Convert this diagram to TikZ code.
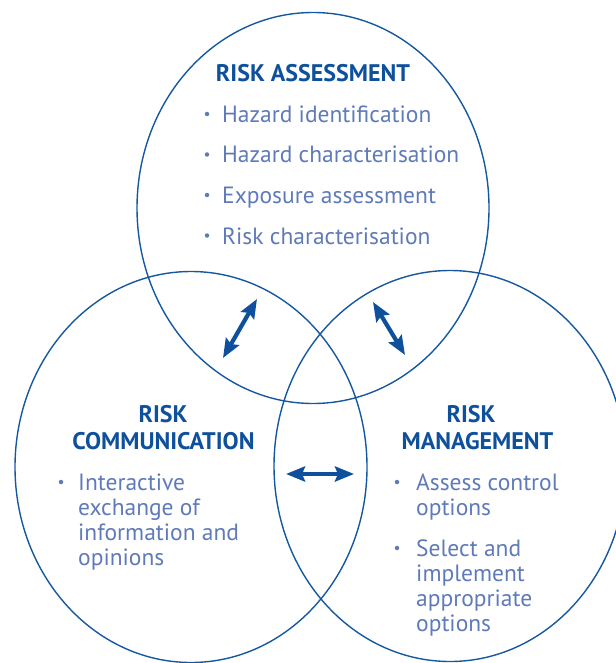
\documentclass[tikz,border=0pt]{standalone}
\usepackage{fontspec}
\setmainfont{PT Sans}
\usetikzlibrary{shapes.geometric,arrows.meta}
\definecolor{rimblue}{RGB}{22,88,160}
\definecolor{headblue}{RGB}{14,80,155}
\definecolor{itemblue}{RGB}{95,122,185}

\begin{document}
\begin{tikzpicture}[x=1pt, y=-1pt,
    circ/.style={ellipse, draw=rimblue, line width=1.4pt, minimum width=352pt, minimum height=391pt, inner sep=0pt},
    head/.style={font=\fontsize{24}{27}\selectfont\bfseries, text=headblue, inner sep=0pt, anchor=base},
    item/.style={font=\fontsize{23.5}{25}\selectfont, text=itemblue, inner sep=0pt, anchor=base west},
    dot/.style={circle, fill=itemblue, inner sep=0pt, minimum size=4.5pt},
    link/.style={{Stealth[length=19pt,width=15pt,inset=3pt]}-{Stealth[length=19pt,width=15pt,inset=3pt]}, line width=4.2pt, draw=headblue}]
  \useasboundingbox (0,0) rectangle (615,663);
  % the three circles
  \node[circ] (assess) at (313,208) {};
  \node[circ] (comm) at (191,467) {};
  \node[circ] (manage) at (450,466) {};
  % risk assessment
  \node[head] (assesshead) at (313,82) {RISK ASSESSMENT};
  \foreach \txt [count=\i from 0] in {Hazard identification, Hazard characterisation, Exposure assessment, Risk characterisation} {
    \node[dot] (assessdot\i) at (207,114+40.5*\i) {};
    \node[item] (assessitem\i) at (222,122.5+40.5*\i) {\txt};
  }
  % risk communication
  \node[head] (commhead1) at (163,422) {RISK};
  \node[head] (commhead2) at (163.5,449) {COMMUNICATION};
  \node[dot] (commdot) at (61,482) {};
  \foreach \txt [count=\i from 0] in {Interactive, exchange of, information and, opinions}
    \node[item] (commline\i) at (78,490+25*\i) {\txt};
  % risk management
  \node[head] (managehead1) at (471,422) {RISK};
  \node[head] (managehead2) at (477.5,449) {MANAGEMENT};
  \node[dot] (managedot1) at (397,482) {};
  \node[dot] (managedot2) at (397,548) {};
  \foreach \txt [count=\i from 0] in {Assess control, options}
    \node[item] (manageline\i) at (416,490+25*\i) {\txt};
  \foreach \txt [count=\i from 0] in {Select and, implement, appropriate, options}
    \node[item] (manageopt\i) at (416,556.5+25*\i) {\txt};
  % arrows between the circles
  \coordinate (lefttop) at (257,299);
  \coordinate (leftbot) at (223,358);
  \coordinate (righttop) at (373,302);
  \coordinate (rightbot) at (405,355);
  \coordinate (midleft) at (286,474);
  \coordinate (midright) at (354,474);
  \draw[link] (lefttop) -- (leftbot);
  \draw[link] (righttop) -- (rightbot);
  \draw[link] (midleft) -- (midright);
\end{tikzpicture}
\end{document}
